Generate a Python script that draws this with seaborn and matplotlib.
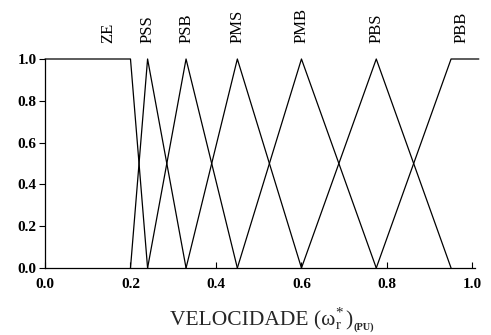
import matplotlib
matplotlib.use("Agg")
import matplotlib.pyplot as plt
import seaborn as sns
import pandas as pd

# Fuzzy sets for the speed input (membership vs. per-unit speed)
set_names = ["ZE", "PSS", "PSB", "PMS", "PMB", "PBS", "PBB"]
set_x = [
    [0.0, 0.2, 0.24],
    [0.2, 0.24, 0.33],
    [0.24, 0.33, 0.45],
    [0.33, 0.45, 0.6],
    [0.45, 0.6, 0.775],
    [0.6, 0.775, 0.95],
    [0.775, 0.95, 1.015],
]
set_mu = [
    [1, 1, 0],
    [0, 1, 0],
    [0, 1, 0],
    [0, 1, 0],
    [0, 1, 0],
    [0, 1, 0],
    [0, 1, 1],
]
label_x = [0.148, 0.24, 0.33, 0.45, 0.6, 0.775, 0.975]

x_ticks = [0.0, 0.2, 0.4, 0.6, 0.8, 1.0]
y_ticks = [0.0, 0.2, 0.4, 0.6, 0.8, 1.0]

sns.set_style("ticks")
plt.rcParams["font.family"] = ["Liberation Serif", "DejaVu Serif"]
plt.rcParams["mathtext.fontset"] = "custom"
plt.rcParams["mathtext.rm"] = "Liberation Serif"
plt.rcParams["mathtext.it"] = "Liberation Serif:italic"
plt.rcParams["mathtext.bf"] = "Liberation Serif:bold"

rows = []
for name, xs, ys in zip(set_names, set_x, set_mu):
    for xv, yv in zip(xs, ys):
        rows.append({"set": name, "x": xv, "mu": yv})
df = pd.DataFrame(rows)

W, H = 491, 335
fig = plt.figure(figsize=(W / 100, H / 100), dpi=100)
ax = fig.add_axes([45 / W, 67 / H, 430 / W, 209 / H])

sns.lineplot(data=df, x="x", y="mu", hue="set", units="set", estimator=None,
             sort=False, palette=["black"] * len(set_names), legend=False,
             linewidth=0.9, ax=ax)
for ln in ax.lines:
    ln.set_clip_on(False)

for name, lx in zip(set_names, label_x):
    ax.text(lx, 1.075, name, rotation=90, ha="center", va="bottom",
            fontsize=12, color="black")

ax.set_xlim(0, 1.006)
ax.set_ylim(0, 1)
ax.set_xticks(x_ticks)
ax.set_yticks(y_ticks)
ax.set_xticklabels([f"{v:.1f}" for v in x_ticks], fontsize=11, fontweight="bold")
ax.set_yticklabels([f"{v:.1f}" for v in y_ticks], fontsize=11, fontweight="bold")
ax.tick_params(axis="x", direction="in", length=4, width=0.8, pad=7, colors="black")
ax.tick_params(axis="y", direction="out", length=4, width=0.8, pad=2, colors="black")
ax.set_xlabel("")
ax.set_ylabel("")

sns.despine(ax=ax)
for sp in ("left", "bottom"):
    ax.spines[sp].set_linewidth(0.9)
    ax.spines[sp].set_color("black")

# Axis title built from consecutive pieces: word, symbol, per-unit subscript
renderer = fig.canvas.get_renderer()
pieces = [
    ("VELOCIDADE (ω", 15.5, "normal", 0, 0),
    (r"$\mathrm{_{r}^{*}}$", 15.5, "normal", 0, 0),
    (")", 15.5, "normal", 1, 0),
    ("(PU)", 7.5, "bold", 0, -5),
]
cursor_x = 170
base_y = 325
for txt, size, weight, gap, dy in pieces:
    t = fig.text((cursor_x + gap) / W, 1 - (base_y - dy) / H, txt, fontsize=size,
                 fontweight=weight, ha="left", va="baseline")
    bb = t.get_window_extent(renderer)
    cursor_x = bb.x1 + gap

fig.savefig("out.png", dpi=100)
